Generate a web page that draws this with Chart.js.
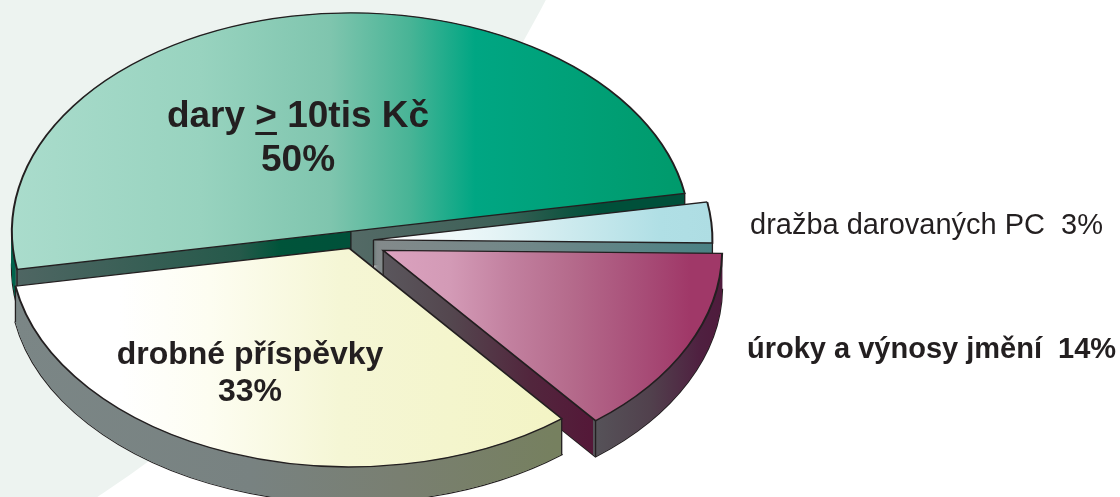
<!DOCTYPE html>
<html>
<head>
<meta charset="utf-8">
<title>Zdroje příjmů</title>
<script src="https://cdn.jsdelivr.net/npm/chart.js@4/dist/chart.umd.min.js"></script>
<style>
    html, body { margin: 0; padding: 0; background: #fff; overflow: hidden; }
    #wrap { position: relative; width: 1120px; height: 497px; overflow: hidden; }
    /* pale backdrop behind the pie */
    #backdrop { position: absolute; left: -1980px; top: -1959px; width: 2678px; height: 2678px; border-radius: 50%; background: #edf3f0; }
    #pieChart { position: absolute; left: 0; top: 0; }
</style>
</head>
<body>
<div id="wrap">
    <div id="backdrop"></div>
    <canvas id="pieChart" width="1120" height="497"></canvas>
</div>
<script>
const categories = ['dary > 10tis Kč', 'dražba darovaných PC', 'úroky a výnosy jmění', 'drobné příspěvky'];
const shares = [50, 3, 14, 33];

// look of the tilted pie
const pieCenter = { x: 353.5, y: 241 };
const pieRadius = 339;
const squash = 0.645;
const depth = 36;
const explode = [15, 20, 33, 12];
const rotation = -100;
const inkColor = '#231f20';

// colour stops as [page x, colour]
const topStops = [
    [[12, '#aadccc'], [200, '#98d3bf'], [330, '#7fc5ae'], [410, '#48b496'], [475, '#00a683'], [687, '#009a6b']],
    [[385, '#ffffff'], [490, '#e6f4f6'], [660, '#b0dfe5'], [713, '#aedde3']],
    [[385, '#dba2bf'], [450, '#d39ab6'], [510, '#c2809f'], [570, '#b56b8c'], [640, '#a84e78'], [690, '#a03868'], [723, '#a03868']],
    [[14, '#ffffff'], [120, '#ffffff'], [210, '#fdfdf1'], [340, '#f5f6d5'], [557, '#f3f4c5']]
];
const wallStops = [
    [[15, '#00644c'], [16, '#4f6663'], [240, '#25594a'], [280, '#00543a'], [351, '#00513a'], [351.5, '#546a66'], [500, '#3d6057'], [570, '#0f5440'], [600, '#00503a'], [690, '#00503a']],
    [[373, '#848a8b'], [540, '#6f8788'], [713, '#4a8184']],
    [[385, '#5a565c'], [450, '#54474f'], [530, '#52263d'], [593, '#541838'], [593.5, '#565359'], [650, '#51414d'], [700, '#4f2040'], [723, '#4f1b3c']],
    [[14, '#7b8686'], [250, '#788281'], [400, '#797f71'], [557, '#76805f']]
];

function sweep(ctx, stops, offsetX) {
    const g = ctx.createLinearGradient(-offsetX, 0, 1120 - offsetX, 0);
    stops.forEach(s => g.addColorStop(s[0] / 1120, s[1]));
    return g;
}

// draws one copy of a slice with other options, library path and all
function drawCopy(ctx, arc, shiftX, shiftY, drop, opts) {
    const saved = arc.options;
    arc.options = Object.assign({}, saved, opts);
    ctx.save();
    ctx.translate(pieCenter.x, pieCenter.y + drop);
    ctx.scale(1, squash);
    ctx.translate(shiftX - arc.x, shiftY - arc.y);
    arc.draw(ctx);
    ctx.restore();
    arc.options = saved;
}

const tiltedPie = {
    id: 'tiltedPie',
    beforeDatasetsDraw(chart) {
        const ctx = chart.ctx;
        chart.getDatasetMeta(0).data.forEach((arc, i) => {
            const half = (arc.startAngle + arc.endAngle) / 2;
            const shiftX = Math.cos(half) * explode[i];
            const shiftY = Math.sin(half) * explode[i];
            const offsetX = pieCenter.x + shiftX - arc.x;
            const wall = sweep(ctx, wallStops[i], offsetX);

            // side wall: bottom copy with outline, then fill upwards
            // small steps, a thin slice leaves gaps near its tip otherwise
            drawCopy(ctx, arc, shiftX, shiftY, depth, { backgroundColor: wall });
            for (let k = depth - 0.2; k > 0; k -= 0.2) {
                drawCopy(ctx, arc, shiftX, shiftY, k, { backgroundColor: wall, borderWidth: 0 });
            }

            // vertical edges at the corners of the slice
            const apexX = pieCenter.x + shiftX;
            const apexY = pieCenter.y + shiftY * squash;
            const corners = [[apexX, apexY]];
            [arc.startAngle, arc.endAngle].forEach((a, n) => {
                if (n === 0 && a > -Math.PI / 2 && a < Math.PI / 6) return;
                corners.push([
                    apexX + Math.cos(a) * arc.outerRadius,
                    apexY + Math.sin(a) * arc.outerRadius * squash
                ]);
            });
            ctx.save();
            ctx.strokeStyle = inkColor;
            ctx.lineWidth = 1.3;
            corners.forEach(c => {
                ctx.beginPath();
                ctx.moveTo(c[0], c[1]);
                ctx.lineTo(c[0], c[1] + depth);
                ctx.stroke();
            });
            ctx.restore();

            drawCopy(ctx, arc, shiftX, shiftY, 0, { backgroundColor: sweep(ctx, topStops[i], offsetX) });
        });
        return false;
    },
    afterDraw(chart) {
        const ctx = chart.ctx;
        ctx.save();
        ctx.fillStyle = inkColor;
        ctx.textBaseline = 'alphabetic';

        // big label with the underlined ">"
        ctx.font = 'bold 37px "Liberation Sans", Arial, sans-serif';
        const parts = categories[0].split('>');
        const a = ctx.measureText(parts[0]).width;
        const b = ctx.measureText('>').width;
        const c = ctx.measureText(parts[1]).width;
        const left = 298 - (a + b + c) / 2;
        ctx.textAlign = 'left';
        ctx.fillText(categories[0], left, 127);
        ctx.fillRect(left + a, 132, b, 3);
        ctx.textAlign = 'center';
        ctx.fillText(shares[0] + '%', 298, 171);

        ctx.font = 'bold 32px "Liberation Sans", Arial, sans-serif';
        ctx.fillText(categories[3], 250, 364);
        ctx.fillText(shares[3] + '%', 250, 401);

        ctx.textAlign = 'left';
        ctx.font = '29px "Liberation Sans", Arial, sans-serif';
        ctx.fillText(categories[1] + '  ' + shares[1] + '%', 750, 234);
        ctx.font = 'bold 29px "Liberation Sans", Arial, sans-serif';
        ctx.fillText(categories[2] + '  ' + shares[2] + '%', 747, 358);
        ctx.restore();
    }
};

new Chart(document.getElementById('pieChart'), {
    type: 'pie',
    data: {
        labels: categories,
        datasets: [{
            data: shares,
            radius: pieRadius,
            backgroundColor: ['#5ab89c', '#d0ecef', '#bd7898', '#f7f8dc'],
            borderColor: inkColor,
            borderWidth: 2,
            borderJoinStyle: 'miter'
        }]
    },
    options: {
        responsive: false,
        animation: false,
        rotation: rotation,
        plugins: { legend: { display: false }, tooltip: { enabled: false } }
    },
    plugins: [tiltedPie]
});
</script>
</body>
</html>
